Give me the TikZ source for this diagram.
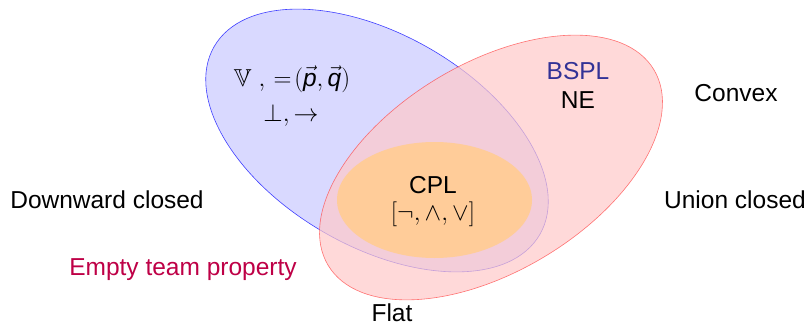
\documentclass[tikz,border=0pt]{standalone}
\usepackage{amssymb}
\usepackage{fontspec}
\setmainfont{Liberation Sans}
\begin{document}
\begin{tikzpicture}[x=1pt,y=1pt,
  lbl/.style={font=\fontsize{24.5}{29}\selectfont, inner sep=0pt},
  blueset/.style={fill=blue!15, draw=blue!75, line width=0.6pt},
  redset/.style={fill=red!21, draw=red!75, line width=0.6pt, opacity=0.7},
  orangeset/.style={fill=orange!40, draw=none}]
\useasboundingbox (0,0) rectangle (811,325);
% sets
\path[blueset] (377,184.5) ellipse [x radius=188, y radius=106, rotate=-30];
\path[redset] (491,157.5) ellipse [x radius=190, y radius=104, rotate=31];
\path[orangeset] (434.5,125) ellipse [x radius=97.5, y radius=58];
% labels
\node[lbl] (dc) at (107,125) {Downward closed};
\node[lbl, text={rgb,255:red,190;green,0;blue,70}] (etp) at (183,55) {Empty team property};
\node[lbl] (flat) at (392,12) {Flat};
\node[lbl] (uc) at (735,125) {Union closed};
\node[lbl] (cvx) at (736,232) {Convex};
\node[lbl, text={rgb,255:red,50;green,50;blue,150}] (bspl) at (578,254) {BSPL};
\node[lbl] (ne) at (578,225) {NE};
\node[lbl] (cpl) at (433,140) {CPL};
\node[lbl] (cplops) at (433,111) {$[\neg,\wedge,\vee]$};
\node[lbl] (depops) at (292,246) {$\mathbb{V}\;,\,=\!(\vec{\mbox{\itshape p}},\vec{\mbox{\itshape q}})$};
\node[lbl] (intops) at (291,210) {$\bot,\to$};
\end{tikzpicture}
\end{document}
